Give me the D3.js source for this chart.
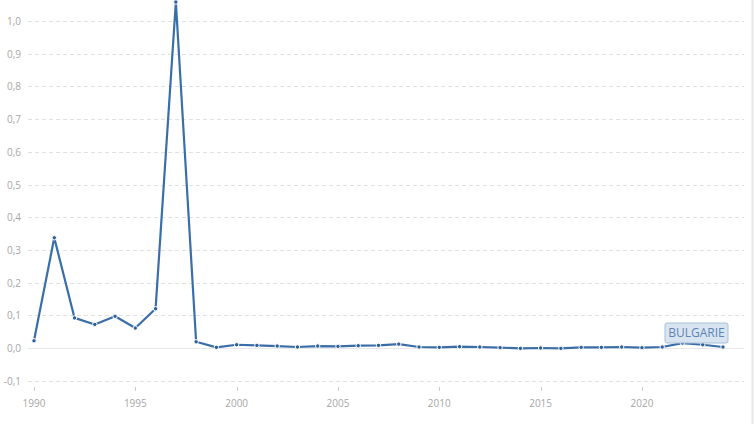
<!DOCTYPE html>
<html><head><meta charset="utf-8">
<script src="https://cdn.jsdelivr.net/npm/d3@7"></script>
<style>body{margin:0;background:#fff;}svg{display:block;font-family:"Open Sans",sans-serif;}</style>
</head><body>
<script>
const years = d3.range(1990, 2025);
const values = [0.022,0.337,0.092,0.072,0.097,0.061,0.120,1.058,0.019,0.002,
  0.010,0.008,0.006,0.003,0.006,0.005,0.007,0.008,0.012,0.003,
  0.002,0.004,0.003,0.001,-0.001,0.000,-0.001,0.002,0.002,0.003,
  0.001,0.003,0.015,0.010,0.003];
const yTicks = [-0.1,0,0.1,0.2,0.3,0.4,0.5,0.6,0.7,0.8,0.9,1.0];
const xTicks = [1990,1995,2000,2005,2010,2015,2020];
const seriesName = "BULGARIE";

const W = 754, H = 424;
const svg = d3.select("body").append("svg").attr("width", W).attr("height", H);
const x = d3.scaleLinear().domain([1990, 2024]).range([34, 723]);
const y = d3.scaleLinear().domain([0, 1]).range([348, 21]);

// right border
svg.append("line").attr("x1", 752.5).attr("x2", 752.5).attr("y1", 0).attr("y2", H)
  .attr("stroke", "#e6e6e6").attr("stroke-width", 2);

// grid
svg.append("g").selectAll("line").data(yTicks).join("line")
  .attr("x1", 28).attr("x2", 744)
  .attr("y1", d => Math.round(y(d)) + 0.5).attr("y2", d => Math.round(y(d)) + 0.5)
  .attr("stroke", d => d === 0 ? "#e8e8e8" : "#e0e0e0")
  .attr("stroke-dasharray", d => d === 0 ? null : "4,3");

// y labels
svg.append("g").selectAll("text").data(yTicks).join("text")
  .attr("x", 21).attr("y", d => y(d) + 4)
  .attr("text-anchor", "end").attr("font-size", 10).attr("fill", "#a6a6a6")
  .text(d => d3.format(".1f")(d).replace(".", ",").replace("−", "-"));

// x axis ticks & labels
const xg = svg.append("g");
xg.selectAll("line").data(xTicks).join("line")
  .attr("x1", d => Math.round(x(d)) + 0.5).attr("x2", d => Math.round(x(d)) + 0.5)
  .attr("y1", 387).attr("y2", 391).attr("stroke", "#cccccc");
xg.selectAll("text").data(xTicks).join("text")
  .attr("x", d => x(d)).attr("y", 407)
  .attr("text-anchor", "middle").attr("font-size", 10).attr("fill", "#a6a6a6")
  .text(d => d);

// line
const data = years.map((yr, i) => ({yr, v: values[i]}));
svg.append("path").datum(data)
  .attr("d", d3.line().x(d => x(d.yr)).y(d => y(d.v)))
  .attr("fill", "none").attr("stroke", "#3a6ea8").attr("stroke-width", 2.2)
  .attr("stroke-linejoin", "round");
svg.append("g").selectAll("circle").data(data).join("circle")
  .attr("cx", d => x(d.yr)).attr("cy", d => y(d.v)).attr("r", 2.2)
  .attr("fill", "#2f5f96").attr("stroke", "#fff").attr("stroke-width", 1);

// label box
const last = data[data.length - 1];
const bx = x(last.yr) + 5, by = y(last.v) - 4;
const lg = svg.append("g");
lg.append("rect").attr("x", bx - 63).attr("y", by - 20).attr("width", 63).attr("height", 20)
  .attr("rx", 2).attr("fill", "#d5e1ef").attr("fill-opacity", 0.9)
  .attr("stroke", "#a8bfdb").attr("stroke-width", 1);
lg.append("text").attr("x", bx - 31.5).attr("y", by - 6)
  .attr("text-anchor", "middle").attr("font-size", 12).attr("fill", "#5c84b6")
  .text(seriesName);
</script>
</body></html>
